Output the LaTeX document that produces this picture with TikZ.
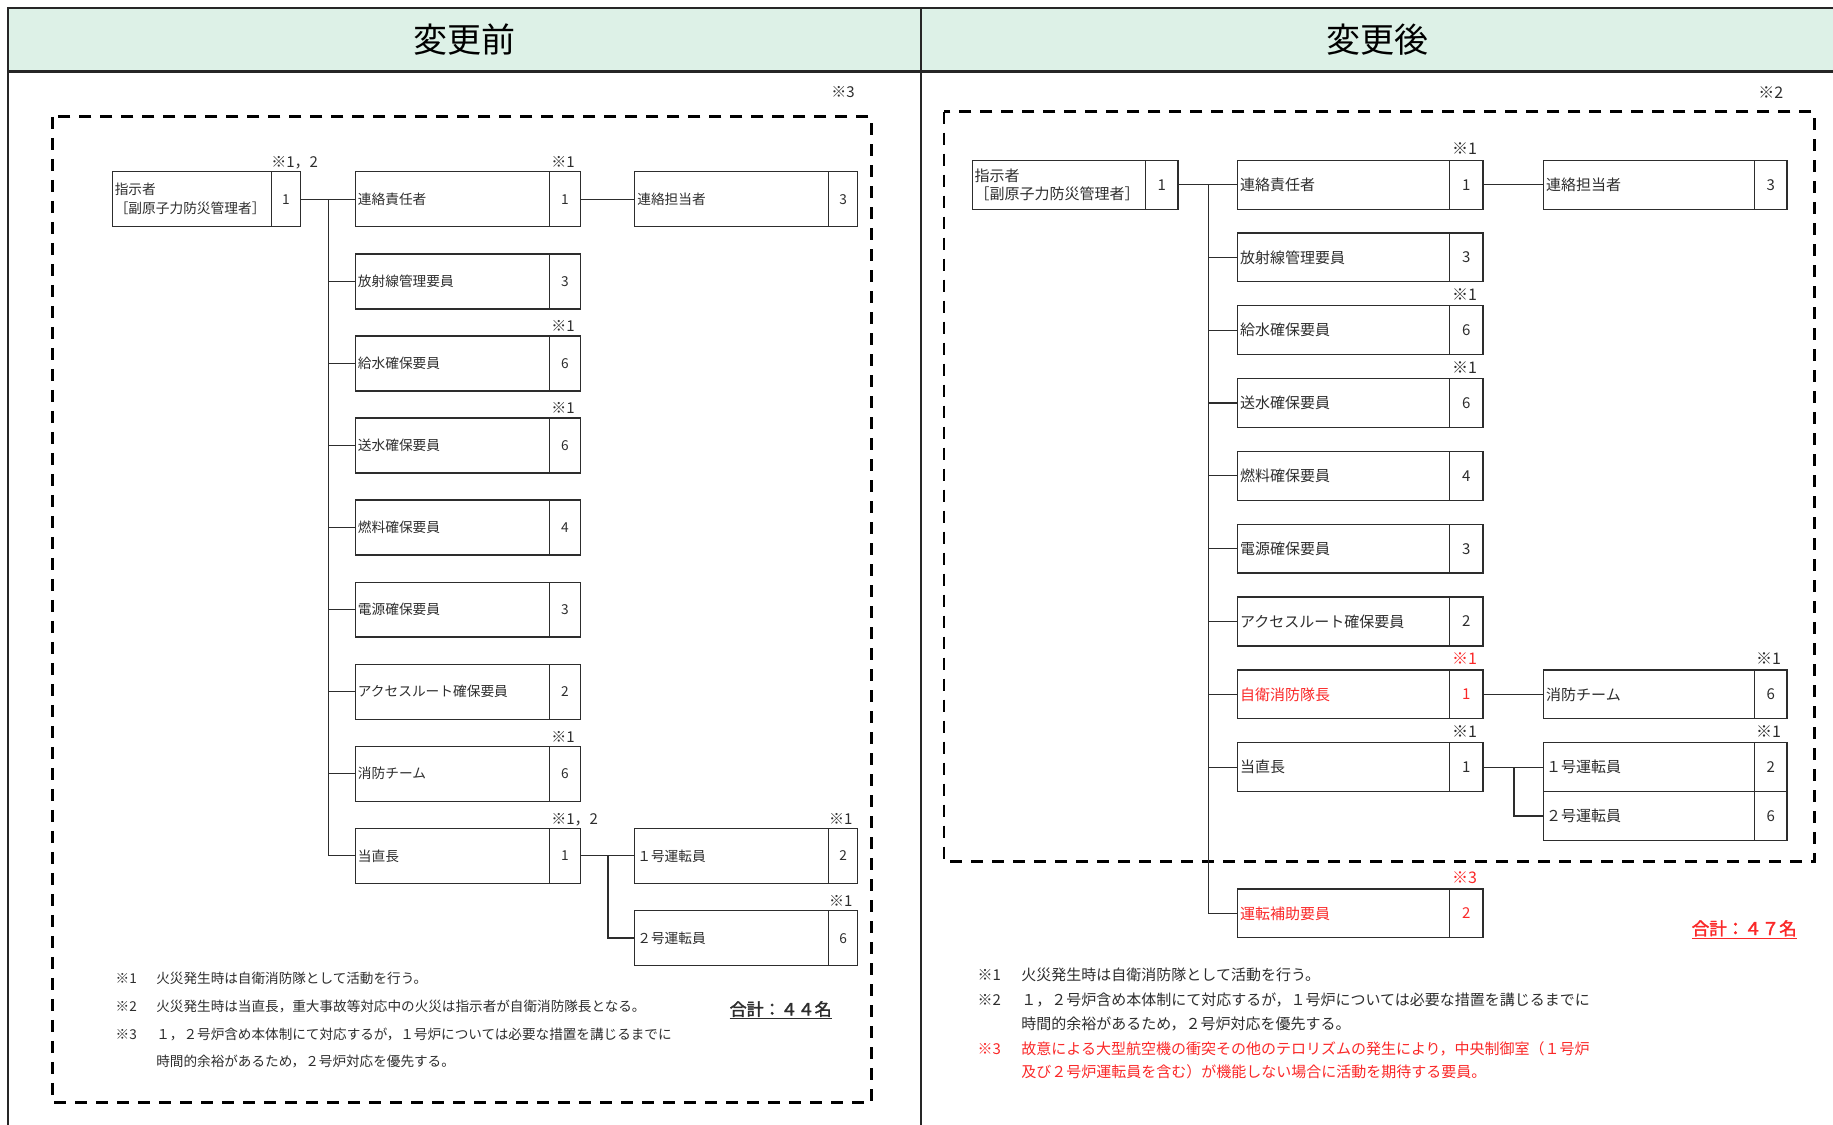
\documentclass[tikz,border=0pt]{standalone}
\usepackage{fontspec}
\setmainfont{Noto Sans CJK JP}
\newfontfamily\cjkbold[FakeBold=2]{Noto Sans CJK JP}
\usetikzlibrary{fit}
\definecolor{hdr}{RGB}{221,241,231}
\definecolor{ink}{RGB}{45,45,45}
\definecolor{redt}{RGB}{250,40,40}
\tikzset{
  boxst/.style={draw=ink, line width=1.3pt, inner sep=0pt, rectangle},
  divl/.style={draw=ink, line width=1.3pt},
  conn/.style={draw=ink, line width=1.3pt},
  dbox/.style={draw=black, line width=2.8pt, dash pattern=on 12pt off 9pt},
  framel/.style={draw=black!85, line width=2.5pt},
  titlet/.style={font=\fontsize{34}{40}\selectfont, text=black, inner sep=0pt},
  fnote/.style={anchor=west, inner sep=0pt, text=ink, font=\ffnt},
}
\newcommand\obox[9]{%
  \node[boxst, fit={(#2,#3)(#4,#5)}] (#1) {};
  \draw[divl] (#6,#3) -- (#6,#5);
  \node[anchor=west, inner xsep=3pt, inner ysep=1pt, align=left, text=#9, font=\bfnt] (#1-l) at (#1.west) {#7};
  \node[inner sep=0pt, text=#9, font=\bfnt] (#1-n) at ({(#6+#4)/2},{(#3+#5)/2}) {#8};
}
\newcommand\onote[5]{%
  \node[anchor=base west, inner sep=0pt, text=#4, font=\nfnt] (#1) at (#2,#3) {#5};
}
\begin{document}
\begin{tikzpicture}[x=1.169pt, y=-1.169pt]
\useasboundingbox (0,0) rectangle (1568,962);
% frame and header
\fill[hdr] (7,7) rectangle (1568,61);
\draw[framel] (7,7) -- (1568,7);
\draw[framel] (7,61) -- (1568,61);
\draw[framel] (7,6) -- (7,962);
\draw[framel] (788,7) -- (788,962);
\node[titlet] (T1) at (397.5,34) {変更前};
\node[titlet] (T2) at (1178,34) {変更後};

% ================= LEFT =================
\def\bfnt{\fontsize{13.7}{19}\selectfont}
\def\nfnt{\fontsize{15}{17}\selectfont}
\def\ffnt{\fontsize{13.6}{16}\selectfont}
\draw[dbox] (45,100) rectangle (745.5,943);
\onote{Ln0}{711}{83}{ink}{※3}

\obox{Ldir}{96}{147}{257}{194}{232}{指示者\\［副原子力防災管理者］}{1}{ink}
\obox{Lrep}{304}{147}{496.5}{194}{470}{連絡責任者}{1}{ink}
\obox{Lcon}{543}{147}{733.5}{194}{709}{連絡担当者}{3}{ink}
\obox{Lrad}{304}{217.2}{496.5}{264.2}{470}{放射線管理要員}{3}{ink}
\obox{Lkyu}{304}{287.4}{496.5}{334.4}{470}{給水確保要員}{6}{ink}
\obox{Lsou}{304}{357.6}{496.5}{404.6}{470}{送水確保要員}{6}{ink}
\obox{Lnen}{304}{427.8}{496.5}{474.8}{470}{燃料確保要員}{4}{ink}
\obox{Lden}{304}{498.0}{496.5}{545.0}{470}{電源確保要員}{3}{ink}
\obox{Lacc}{304}{568.2}{496.5}{615.2}{470}{アクセスルート確保要員}{2}{ink}
\obox{Lfir}{304}{638.4}{496.5}{685.4}{470}{消防チーム}{6}{ink}
\obox{Ltoc}{304}{708.6}{496.5}{755.6}{470}{当直長}{1}{ink}
\obox{Lop1}{543}{708.6}{733.5}{755.6}{709}{１号運転員}{2}{ink}
\obox{Lop2}{543}{779}{733.5}{826}{709}{２号運転員}{6}{ink}

\onote{Ln1}{232}{143.5}{ink}{※1，2}
\onote{Ln2}{471.5}{143.5}{ink}{※1}
\onote{Ln3}{471.5}{283.9}{ink}{※1}
\onote{Ln4}{471.5}{354.1}{ink}{※1}
\onote{Ln5}{471.5}{634.9}{ink}{※1}
\onote{Ln6}{471.5}{705.1}{ink}{※1，2}
\onote{Ln7}{709}{705.1}{ink}{※1}
\onote{Ln8}{709}{775.5}{ink}{※1}

\coordinate (Ltr) at (281,0);
\coordinate (Lbr) at (520,0);
\draw[conn] (Ldir.east) -- (Lrep.west);
\draw[conn] (Lrep.east) -- (Lcon.west);
\draw[conn] (Ldir.east -| Ltr) -- (Ltoc.west -| Ltr);
\foreach \n in {Lrad,Lkyu,Lsou,Lnen,Lden,Lacc,Lfir,Ltoc}
  \draw[conn] (\n.west -| Ltr) -- (\n.west);
\draw[conn] (Ltoc.east) -- (Lop1.west);
\draw[conn] (Ltoc.east -| Lbr) |- (Lop2.west);

\node[fnote] (Lf1m) at (98.8,837) {※1};
\node[fnote] (Lf1) at (133.6,837) {火災発生時は自衛消防隊として活動を行う。};
\node[fnote] (Lf2m) at (98.8,861) {※2};
\node[fnote] (Lf2) at (133.6,861) {火災発生時は当直長，重大事故等対応中の火災は指示者が自衛消防隊長となる。};
\node[fnote] (Lf3m) at (98.8,885) {※3};
\node[fnote] (Lf3) at (133.6,885) {１，２号炉含め本体制にて対応するが，１号炉については必要な措置を講じるまでに};
\node[fnote] (Lf4) at (133.6,908) {時間的余裕があるため，２号炉対応を優先する。};
\node[anchor=west, inner sep=0pt, text=ink, font=\fontsize{17}{20}\selectfont\cjkbold] (Ltot) at (624,864) {\underline{合計：４４名}};

% ================= RIGHT =================
\def\bfnt{\fontsize{15}{18}\selectfont}
\def\nfnt{\fontsize{16}{18}\selectfont}
\def\ffnt{\fontsize{15}{17}\selectfont}
\draw[dbox] (807.5,95.5) rectangle (1552,737);
\onote{Rn0}{1504}{84}{ink}{※2}

\obox{Rdir}{831.6}{137}{1007.6}{179}{980}{指示者\\［副原子力防災管理者］}{1}{ink}
\obox{Rrep}{1058.7}{137}{1268.7}{179}{1240}{連絡責任者}{1}{ink}
\obox{Rcon}{1320.5}{137}{1528.5}{179}{1501}{連絡担当者}{3}{ink}
\obox{Rrad}{1058.7}{199.3}{1268.7}{241}{1240}{放射線管理要員}{3}{ink}
\obox{Rkyu}{1058.7}{261.6}{1268.7}{303.3}{1240}{給水確保要員}{6}{ink}
\obox{Rsou}{1058.7}{323.9}{1268.7}{365.6}{1240}{送水確保要員}{6}{ink}
\obox{Rnen}{1058.7}{386.2}{1268.7}{427.9}{1240}{燃料確保要員}{4}{ink}
\obox{Rden}{1058.7}{448.5}{1268.7}{490.2}{1240}{電源確保要員}{3}{ink}
\obox{Racc}{1058.7}{510.8}{1268.7}{552.5}{1240}{アクセスルート確保要員}{2}{ink}
\obox{Rcap}{1058.7}{573.1}{1268.7}{614.8}{1240}{自衛消防隊長}{1}{redt}
\obox{Rtoc}{1058.7}{635.4}{1268.7}{677.1}{1240}{当直長}{1}{ink}
\obox{Rsup}{1058.7}{760.5}{1268.7}{802.2}{1240}{運転補助要員}{2}{redt}
\obox{Rfir}{1320.5}{573.1}{1528.5}{614.8}{1501}{消防チーム}{6}{ink}
\obox{Rop1}{1320.5}{635.4}{1528.5}{677.1}{1501}{１号運転員}{2}{ink}
\obox{Rop2}{1320.5}{677.1}{1528.5}{718.8}{1501}{２号運転員}{6}{ink}

\onote{Rn1}{1242}{132.5}{ink}{※1}
\onote{Rn2}{1242}{257.1}{ink}{※1}
\onote{Rn3}{1242}{319.4}{ink}{※1}
\onote{Rn4}{1242}{568.6}{redt}{※1}
\onote{Rn5}{1242}{630.9}{ink}{※1}
\onote{Rn6}{1242}{756}{redt}{※3}
\onote{Rn7}{1502}{568.6}{ink}{※1}
\onote{Rn8}{1502}{630.9}{ink}{※1}

\coordinate (Rtr) at (1033.5,0);
\coordinate (Rbr) at (1295,0);
\draw[conn] (Rdir.east) -- (Rrep.west);
\draw[conn] (Rrep.east) -- (Rcon.west);
\draw[conn] (Rdir.east -| Rtr) -- (Rsup.west -| Rtr);
\foreach \n in {Rrad,Rkyu,Rsou,Rnen,Rden,Racc,Rcap,Rtoc,Rsup}
  \draw[conn] (\n.west -| Rtr) -- (\n.west);
\draw[conn] (Rcap.east) -- (Rfir.west);
\draw[conn] (Rtoc.east) -- (Rop1.west);
\draw[conn] (Rtoc.east -| Rbr) |- (Rop2.west);

\node[fnote] (Rf1m) at (836,834) {※1};
\node[fnote] (Rf1) at (873.6,834) {火災発生時は自衛消防隊として活動を行う。};
\node[fnote] (Rf2m) at (836,855.5) {※2};
\node[fnote] (Rf2) at (873.6,855.5) {１，２号炉含め本体制にて対応するが，１号炉については必要な措置を講じるまでに};
\node[fnote] (Rf3) at (873.6,876) {時間的余裕があるため，２号炉対応を優先する。};
\node[fnote, text=redt] (Rf4m) at (836,897) {※3};
\node[fnote, text=redt] (Rf4) at (873.6,897) {故意による大型航空機の衝突その他のテロリズムの発生により，中央制御室（１号炉};
\node[fnote, text=redt] (Rf5) at (873.6,917) {及び２号炉運転員を含む）が機能しない場合に活動を期待する要員。};
\node[anchor=west, inner sep=0pt, text=redt, font=\fontsize{17.5}{20}\selectfont\cjkbold] (Rtot) at (1447,795) {\underline{合計：４７名}};
\end{tikzpicture}
\end{document}
